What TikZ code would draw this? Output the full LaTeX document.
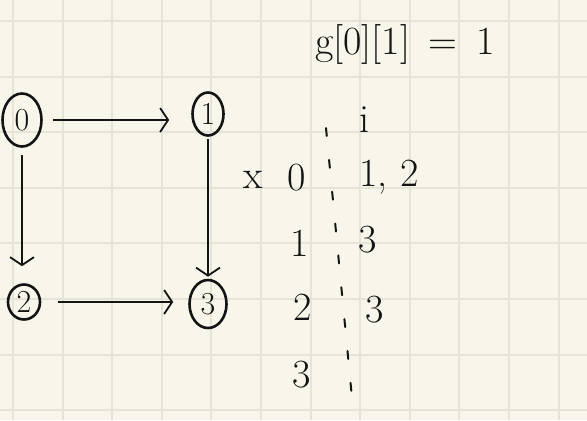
\documentclass[tikz,border=0pt]{standalone}
\usetikzlibrary{shapes.geometric,arrows.meta}
\definecolor{paper}{RGB}{248,246,234}
\definecolor{gridline}{RGB}{230,227,215}
\definecolor{ink}{RGB}{20,20,20}
\begin{document}
\begin{tikzpicture}[x=0.5pt,y=-0.5pt,
        vertex/.style={ellipse,draw=ink,line width=1.3pt,inner sep=0pt,text=ink,font=\fontsize{16}{18}\selectfont},
        edge/.style={draw=ink,line width=0.9pt,-{Straight Barb[length=4pt,width=12pt]}},
        entry/.style={text=ink,inner sep=1pt,font=\fontsize{20}{24}\selectfont}]
    \fill[paper] (0,0) rectangle (587,420);
    \useasboundingbox (0,0) rectangle (587,420);
    % squared paper
    \foreach \x in {0,...,11}
        \draw[gridline,line width=1pt] ({13+49.6*\x},0) -- ({13+49.6*\x},420);
    \foreach \y in {0,...,7}
        \draw[gridline,line width=1pt] (0,{21+55.6*\y}) -- (587,{21+55.6*\y});
    % graph
    \node[vertex,minimum width=19.5pt,minimum height=26.5pt] (v0) at (22,120) {0};
    \node[vertex,minimum width=15.5pt,minimum height=21.5pt] (v1) at (208,114) {1};
    \node[vertex,minimum width=16pt,minimum height=17.5pt] (v2) at (24,302) {2};
    \node[vertex,minimum width=18.5pt,minimum height=24pt] (v3) at (208,304) {3};
    \draw[edge,shorten <=5pt,shorten >=11pt] (v0.east) -- (v0.east -| v1.west);
    \draw[edge,shorten <=3.5pt,shorten >=8.5pt] (v0.south) -- (v0.south |- v2.north);
    \draw[edge,shorten <=1pt,shorten >=1pt] (v1.south) -- (v1.south |- v3.north);
    \draw[edge,shorten <=8.5pt,shorten >=7.5pt] (v2.east) -- (v2.east -| v3.west);
    % adjacency notes
    \node[entry] (title) at (405,44) {g[0][1]\, = \,1};
    \node[entry] (head) at (364,120) {i};
    \node[entry] (mark) at (253,180) {x};
    \node[entry] (row0) at (297,178) {0};
    \node[entry] (adj0) at (389,177) {1, 2};
    \node[entry] (row1) at (300,243) {1};
    \node[entry] (adj1) at (368,240) {3};
    \node[entry] (row2) at (303,307) {2};
    \node[entry] (adj2) at (375,310) {3};
    \node[entry] (row3) at (302,375) {3};
    \coordinate (sepTop) at (326,128);
    \coordinate (sepBot) at (352,398);
    \draw[ink,line width=1pt,line cap=round,dash pattern=on 4pt off 12pt] (sepTop) -- (sepBot);
\end{tikzpicture}
\end{document}
